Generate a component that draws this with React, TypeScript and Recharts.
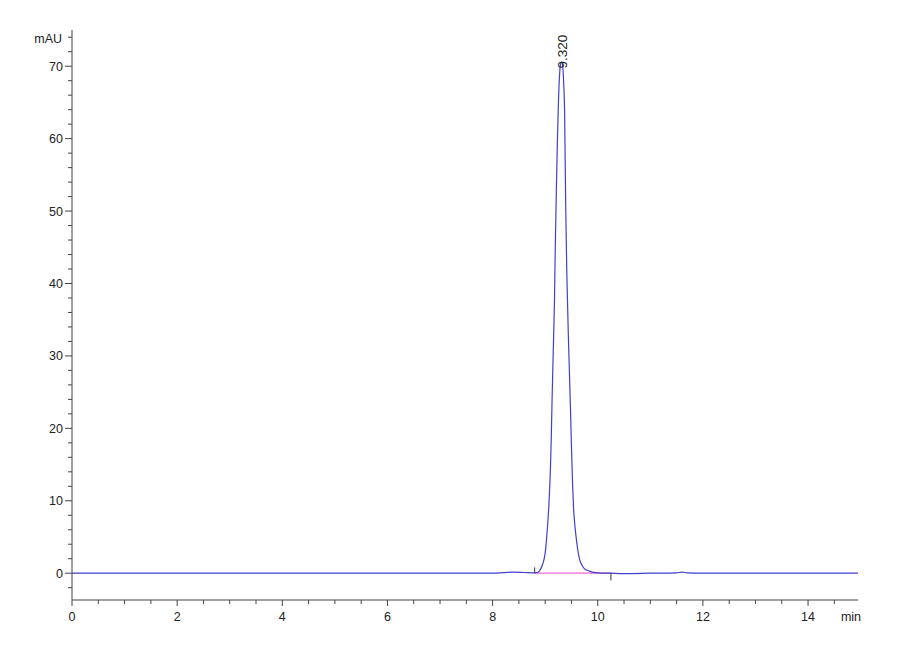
import React from 'react';
import { LineChart, Line, XAxis, YAxis, ReferenceLine, ReferenceDot } from 'recharts';

// retention time (min) / absorbance (mAU)
const times = [
    0, 1, 2, 3, 4, 5, 6, 7, 8, 8.2, 8.4, 8.6, 8.8, 8.85, 8.9, 8.95, 8.975, 9.0, 9.025, 9.05, 9.075,
    9.1, 9.115, 9.131, 9.155, 9.177, 9.19, 9.21, 9.23, 9.25, 9.27, 9.29, 9.31, 9.33, 9.35, 9.37,
    9.39, 9.41, 9.424, 9.44, 9.46, 9.48, 9.5, 9.52, 9.54, 9.57, 9.6, 9.625, 9.658, 9.7, 9.75,
    9.8, 9.85, 9.9, 10.0, 10.25, 10.5, 11, 11.5, 11.6, 11.7, 12, 13, 14, 14.95,
];
const signal = [
    0, 0, 0, 0, 0, 0, 0, 0, 0.02, 0.08, 0.15, 0.1, 0.05, 0.1, 0.4, 1.2, 1.8, 2.8, 4.6, 7.0, 10.0,
    14.5, 18.4, 23.9, 31, 37.7, 44, 52, 59, 64.5, 68.3, 70.2, 70.6, 70.2, 68, 63.5,
    51, 42, 37.7, 33, 28, 23, 17.5, 12.5, 9.0, 6.2, 4.3, 3.0, 1.8, 1.1, 0.6,
    0.4, 0.25, 0.15, 0.05, 0, -0.05, 0, 0.05, 0.15, 0.05, 0, 0, 0, 0,
];

// integration baseline drawn under the peak
const baseTimes = [8.8, 10.25];
const baseValues = [0, 0];

// start / end markers of the integration
const markTimes = [8.8, 10.25];
const markFrom = [0, 0];
const markTo = [0.8, -1];

const peakTime = 9.32;
const peakHeight = 70.5;
const peakLabel = '9.320';

const xTicks = [
    0, 0.5, 1, 1.5, 2, 2.5, 3, 3.5, 4, 4.5, 5, 5.5, 6, 6.5, 7, 7.5, 8, 8.5, 9, 9.5, 10, 10.5,
    11, 11.5, 12, 12.5, 13, 13.5, 14, 14.5,
];
const yTicks = [
    -2, 0, 2, 4, 6, 8, 10, 12, 14, 16, 18, 20, 22, 24, 26, 28, 30, 32, 34, 36, 38, 40, 42, 44, 46,
    48, 50, 52, 54, 56, 58, 60, 62, 64, 66, 68, 70, 72, 74,
];

const trace = times.map((t, i) => ({ t, v: signal[i] }));
const baseline = baseTimes.map((t, i) => ({ t, v: baseValues[i] }));

const axisColor = '#444';
const font = '"Liberation Sans", Arial, sans-serif';

const XTick = (props: any) => {
    const { x, y, payload } = props;
    const v = payload.value;
    const major = v % 2 === 0;
    return (
        <g>
            <line x1={x} x2={x} y1={y} y2={y + (major ? 6 : 4)} stroke={axisColor} />
            {major && (
                <text x={x} y={y + 21} textAnchor="middle" fontSize={12.5} fontFamily={font} fill="#222">
                    {v}
                </text>
            )}
        </g>
    );
};

const YTick = (props: any) => {
    const { x, y, payload } = props;
    const v = payload.value;
    const major = v % 10 === 0;
    return (
        <g>
            <line x1={x - (major ? 7 : 4)} x2={x} y1={y} y2={y} stroke={axisColor} />
            {major && (
                <text x={x - 9} y={y + 4.5} textAnchor="end" fontSize={12.5} fontFamily={font} fill="#222">
                    {v}
                </text>
            )}
        </g>
    );
};

const App: React.FC = () => {
    return (
        <div style={{ position: 'absolute', left: 0, top: 0, width: 900, height: 660, background: '#fff' }}>
            <LineChart
                width={900}
                height={660}
                margin={{ top: 30, right: 42, bottom: 30, left: 32 }}
            >
                <XAxis
                    dataKey="t"
                    type="number"
                    domain={[0, 14.95]}
                    ticks={xTicks}
                    interval={0}
                    height={30}
                    tickSize={0}
                    tickMargin={0}
                    tickLine={false}
                    tick={<XTick />}
                    stroke={axisColor}
                    allowDataOverflow
                    label={{
                        content: (p: any) => (
                            <text
                                x={p.viewBox.x + p.viewBox.width - 7}
                                y={p.viewBox.y + 21}
                                textAnchor="middle"
                                fontSize={12.5}
                                fontFamily={font}
                                fill="#222"
                            >
                                min
                            </text>
                        ),
                    }}
                />
                <YAxis
                    type="number"
                    domain={[-3.7, 75]}
                    ticks={yTicks}
                    interval={0}
                    width={40}
                    tickSize={0}
                    tickMargin={0}
                    tickLine={false}
                    tick={<YTick />}
                    stroke={axisColor}
                    allowDataOverflow
                    label={{
                        content: (p: any) => (
                            <text
                                x={p.viewBox.x + p.viewBox.width - 10}
                                y={p.viewBox.y + 13}
                                textAnchor="end"
                                fontSize={12.5}
                                fontFamily={font}
                                fill="#222"
                            >
                                mAU
                            </text>
                        ),
                    }}
                />
                <Line
                    data={baseline}
                    dataKey="v"
                    type="linear"
                    stroke="#ee66dd"
                    strokeWidth={1.3}
                    dot={false}
                    isAnimationActive={false}
                />
                <Line
                    data={trace}
                    dataKey="v"
                    type="monotone"
                    stroke="#4040cc"
                    strokeWidth={1.2}
                    dot={false}
                    isAnimationActive={false}
                />
                {markTimes.map((t, i) => (
                    <ReferenceLine
                        key={t}
                        segment={[{ x: t, y: markFrom[i] }, { x: t, y: markTo[i] }]}
                        stroke="#333"
                        strokeWidth={1}
                    />
                ))}
                <ReferenceDot
                    x={peakTime}
                    y={peakHeight}
                    r={0}
                    stroke="none"
                    label={{
                        content: (p: any) => {
                            const cx = p.viewBox.x;
                            const cy = p.viewBox.y;
                            return (
                                <text
                                    x={cx + 5}
                                    y={cy + 6}
                                    transform={`rotate(-90, ${cx + 5}, ${cy + 6})`}
                                    textAnchor="start"
                                    fontSize={13.5}
                                    fontFamily={font}
                                    fill="#222"
                                >
                                    {peakLabel}
                                </text>
                            );
                        },
                    }}
                />
            </LineChart>
        </div>
    );
};

export default App;
